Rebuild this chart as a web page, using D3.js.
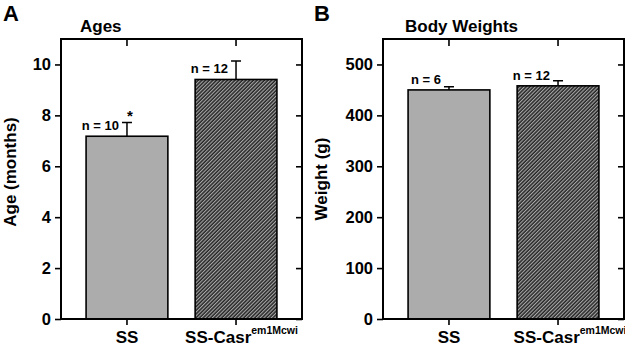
<!DOCTYPE html>
<html>
<head>
<meta charset="utf-8">
<script src="https://cdn.jsdelivr.net/npm/d3@7"></script>
<style>
  body { margin: 0; background: #fff; }
  text { font-family: "Liberation Sans", Arial, sans-serif; font-weight: bold; fill: #000; }
</style>
</head>
<body>
<div id="chart"></div>
<script>
// groups on the x axis
const groups = ["SS", "SS-Casr"];
const groupSup = ["", "em1Mcwi"];

// panel A: ages (months)
const ageMeans = [7.18, 9.41];
const ageErrors = [0.54, 0.73];
const ageN = [10, 12];
const ageStars = ["*", ""];
const ageTicks = [0, 2, 4, 6, 8, 10];

// panel B: body weights (g)
const weightMeans = [450, 458];
const weightErrors = [6, 10];
const weightN = [6, 12];
const weightStars = ["", ""];
const weightTicks = [0, 100, 200, 300, 400, 500];

const W = 625, H = 348;

const svg = d3.select("#chart")
  .append("svg")
  .attr("width", W)
  .attr("height", H);

// hatch for the mutant bar
const defs = svg.append("defs");
const pat = defs.append("pattern")
  .attr("id", "hatch")
  .attr("patternUnits", "userSpaceOnUse")
  .attr("width", 2.6)
  .attr("height", 2.6)
  .attr("patternTransform", "rotate(45)");
pat.append("rect").attr("width", 2.6).attr("height", 2.6).attr("fill", "#262626");
pat.append("line")
  .attr("x1", 0.6).attr("y1", 0).attr("x2", 0.6).attr("y2", 2.6)
  .attr("stroke", "#bdbdbd").attr("stroke-width", 0.95);

const fills = ["#acacac", "url(#hatch)"];

function drawPanel(p) {
  const g = svg.append("g");

  const x = d3.scaleBand()
    .domain(groups)
    .range([p.left, p.right])
    .paddingInner(0.25)
    .paddingOuter(0.23);

  const y = d3.scaleLinear()
    .domain(p.domain)
    .range([p.bottom, p.top]);

  // bars
  g.selectAll(".bar")
    .data(groups)
    .enter()
    .append("rect")
    .attr("class", "bar")
    .attr("x", d => x(d))
    .attr("width", x.bandwidth())
    .attr("y", (d, i) => y(p.means[i]))
    .attr("height", (d, i) => y(0) - y(p.means[i]))
    .attr("fill", (d, i) => fills[i])
    .attr("stroke", "#000")
    .attr("stroke-width", 1.6);

  // error bars (upper only)
  const cx = d => x(d) + x.bandwidth() / 2;
  g.selectAll(".err")
    .data(groups)
    .enter()
    .append("path")
    .attr("class", "err")
    .attr("fill", "none")
    .attr("stroke", "#000")
    .attr("stroke-width", 1.5)
    .attr("d", (d, i) => {
      const top = y(p.means[i] + p.errors[i]);
      return `M${cx(d)},${y(p.means[i])}V${top}M${cx(d) - 5},${top}H${cx(d) + 5}`;
    });

  // n labels
  g.selectAll(".nlab")
    .data(groups)
    .enter()
    .append("text")
    .attr("class", "nlab")
    .attr("x", d => cx(d) - 8)
    .attr("y", (d, i) => y(p.means[i]) - 6)
    .attr("text-anchor", "end")
    .style("font-size", "13px")
    .text((d, i) => "n = " + p.n[i]);

  // significance stars
  g.selectAll(".star")
    .data(groups)
    .enter()
    .append("text")
    .attr("class", "star")
    .attr("x", d => cx(d) + 3)
    .attr("y", (d, i) => y(p.means[i] + p.errors[i]) - 1)
    .attr("text-anchor", "middle")
    .style("font-size", "15px")
    .text((d, i) => p.stars[i]);

  // left axis (ticks outward, labelled)
  const left = g.append("g")
    .attr("transform", `translate(${p.left},0)`)
    .call(d3.axisLeft(y).tickValues(p.ticks).tickSize(6).tickPadding(4).tickSizeOuter(0));
  left.select(".domain").remove();
  left.selectAll(".tick line").attr("stroke-width", 1.6);
  left.selectAll(".tick text").style("font-size", "16.5px").style("font-family", null);

  // right axis (ticks inward, no labels)
  const right = g.append("g")
    .attr("transform", `translate(${p.right},0)`)
    .call(d3.axisLeft(y).tickValues(p.ticks).tickSize(6).tickFormat("").tickSizeOuter(0));
  right.select(".domain").remove();
  right.selectAll(".tick line").attr("stroke-width", 1.6);

  // top axis (ticks inward at bar centers)
  const topAx = g.append("g")
    .attr("transform", `translate(0,${p.top})`)
    .call(d3.axisBottom(x).tickSize(7).tickFormat("").tickSizeOuter(0));
  topAx.select(".domain").remove();
  topAx.selectAll(".tick line").attr("stroke-width", 1.6);

  // bottom axis (ticks outward), labels with superscripts
  const bottom = g.append("g")
    .attr("transform", `translate(0,${p.bottom})`)
    .call(d3.axisBottom(x).tickSize(6).tickSizeOuter(0).tickFormat(""));
  bottom.select(".domain").remove();
  bottom.selectAll(".tick line").attr("stroke-width", 1.6);

  const xl = g.selectAll(".xlab")
    .data(groups)
    .enter()
    .append("text")
    .attr("class", "xlab")
    .attr("x", (d, i) => cx(d) + (groupSup[i] ? p.supShift : 0))
    .attr("y", p.bottom + 23.5)
    .attr("text-anchor", "middle")
    .style("font-size", "17px");
  xl.append("tspan").text(d => d);
  xl.append("tspan")
    .attr("dy", -9)
    .style("font-size", "10.5px")
    .text((d, i) => groupSup[i]);

  // frame
  g.append("rect")
    .attr("x", p.left)
    .attr("y", p.top)
    .attr("width", p.right - p.left)
    .attr("height", p.bottom - p.top)
    .attr("fill", "none")
    .attr("stroke", "#000")
    .attr("stroke-width", 2);

  // title
  g.append("text")
    .attr("x", p.titleX)
    .attr("y", 32)
    .style("font-size", "17px")
    .text(p.title);

  // panel letter
  g.append("text")
    .attr("x", p.letterX)
    .attr("y", 21)
    .style("font-size", "22px")
    .text(p.letter);
}

function drawYLabel(p) {
  svg.append("text")
    .attr("transform", `translate(${p.labelX},${p.labelY}) rotate(-90)`)
    .attr("text-anchor", "middle")
    .style("font-size", "17px")
    .text(p.yLabel);
}

const panelA = {
  left: 61, right: 302, top: 39, bottom: 319,
  domain: [0, 11], ticks: ageTicks,
  means: ageMeans, errors: ageErrors, n: ageN, stars: ageStars,
  title: "Ages", titleX: 80, letter: "A", letterX: 3,
  yLabel: "Age (months)", labelX: 16, labelY: 172, supShift: 5.5
};
const panelB = {
  left: 383, right: 624, top: 39, bottom: 319,
  domain: [0, 550], ticks: weightTicks,
  means: weightMeans, errors: weightErrors, n: weightN, stars: weightStars,
  title: "Body Weights", titleX: 405, letter: "B", letterX: 314,
  yLabel: "Weight (g)", labelX: 327, labelY: 179, supShift: 12
};

drawPanel(panelA);
drawYLabel(panelA);
drawPanel(panelB);
drawYLabel(panelB);
</script>
</body>
</html>
